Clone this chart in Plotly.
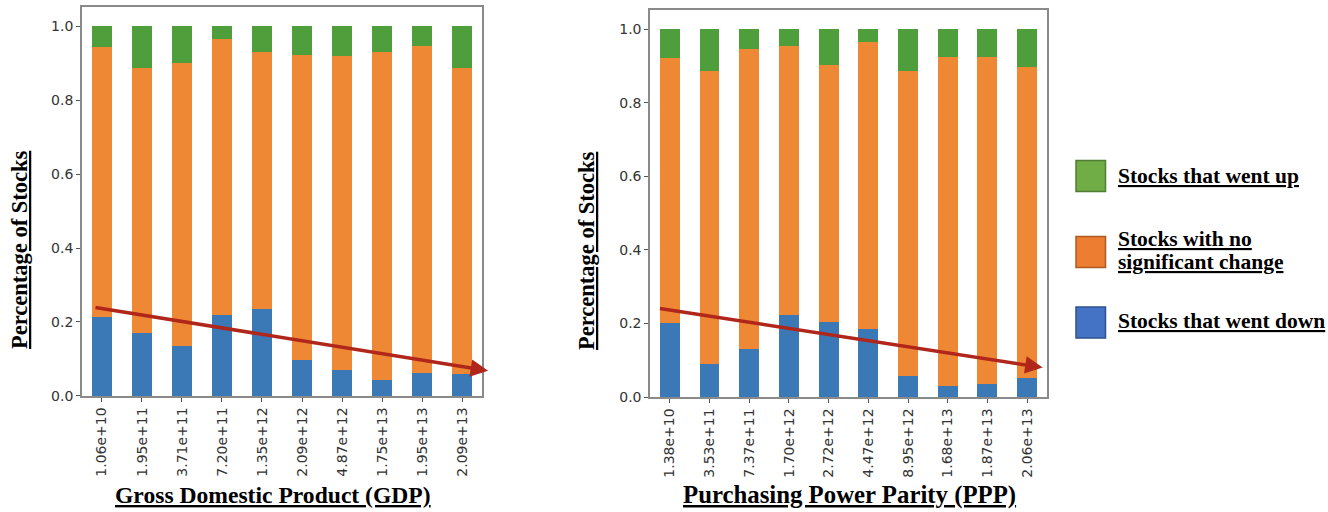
import plotly.graph_objects as go

# ---------------- data ----------------
gdp_labels = ["1.06e+10", "1.95e+11", "3.71e+11", "7.20e+11", "1.35e+12",
              "2.09e+12", "4.87e+12", "1.75e+13", "1.95e+13", "2.09e+13"]
gdp_down = [0.214, 0.171, 0.136, 0.220, 0.234, 0.098, 0.070, 0.043, 0.062, 0.059]
gdp_flat = [0.730, 0.715, 0.765, 0.744, 0.697, 0.825, 0.850, 0.886, 0.885, 0.827]
gdp_up = [0.056, 0.114, 0.099, 0.036, 0.069, 0.077, 0.080, 0.071, 0.053, 0.114]

ppp_labels = ["1.38e+10", "3.53e+11", "7.37e+11", "1.70e+12", "2.72e+12",
              "4.47e+12", "8.95e+12", "1.68e+13", "1.87e+13", "2.06e+13"]
ppp_down = [0.200, 0.091, 0.131, 0.224, 0.203, 0.184, 0.056, 0.031, 0.036, 0.053]
ppp_flat = [0.722, 0.794, 0.815, 0.731, 0.698, 0.781, 0.829, 0.893, 0.889, 0.843]
ppp_up = [0.078, 0.115, 0.054, 0.045, 0.099, 0.035, 0.115, 0.076, 0.075, 0.104]

# trend arrows: [start, end] in category units / y values
gdp_trend_x = [-0.2, 9.65]
gdp_trend_y = [0.240, 0.068]
ppp_trend_x = [-0.29, 9.39]
ppp_trend_y = [0.241, 0.080]

series_names = ["Stocks that went down", "Stocks with no significant change", "Stocks that went up"]
y_ticks = [0.0, 0.2, 0.4, 0.6, 0.8, 1.0]

# ---------------- styles ----------------
bar_colors = ["#3a78b6", "#ef8834", "#4e9e3c"]
legend_fill = ["#4472c4", "#ed7d31", "#70ad47"]
legend_line = ["#2f528f", "#ae5a21", "#507e32"]
arrow_color = "#b0261a"
serif = "Liberation Serif"
tick_font = dict(family="DejaVu Sans", size=14, color="#333333")

W, H = 1328, 520  # reference positions below are given in a 1328x512 frame

fig = go.Figure()

panels = [
    ("x", "y", gdp_labels, [gdp_down, gdp_flat, gdp_up]),
    ("x2", "y2", ppp_labels, [ppp_down, ppp_flat, ppp_up]),
]
for xa, ya, labels, stacks in panels:
    xs = list(range(len(labels)))
    for name, vals, col in zip(series_names, stacks, bar_colors):
        fig.add_trace(go.Bar(
            x=xs, y=vals, name=name, xaxis=xa, yaxis=ya, width=0.5,
            marker=dict(color=col, line=dict(width=0)), showlegend=False,
        ))

axis_common = dict(
    showgrid=False, zeroline=False, showline=True, mirror=True,
    linecolor="#8a8a8a", linewidth=1.5, ticks="outside", ticklen=4,
    tickcolor="#555555", tickwidth=1, tickfont=tick_font,
)

fig.update_layout(
    width=W, height=H, autosize=False,
    margin=dict(l=0, r=0, t=0, b=0),
    paper_bgcolor="white", plot_bgcolor="white",
    barmode="stack", bargap=0,
    xaxis=dict(domain=[0.0617, 0.3630], range=[-0.5, 9.5],
               tickvals=list(range(10)), ticktext=gdp_labels, tickangle=-90,
               **axis_common),
    yaxis=dict(domain=[0.2266, 0.9863], range=[0, 1.0514],
               tickvals=y_ticks, tickformat=".1f", **axis_common),
    xaxis2=dict(domain=[0.4895, 0.7884], range=[-0.5, 9.5], anchor="y2",
                tickvals=list(range(10)), ticktext=ppp_labels, tickangle=-90,
                **axis_common),
    yaxis2=dict(domain=[0.2246, 0.9805], range=[0, 1.0517], anchor="x2",
                tickvals=y_ticks, tickformat=".1f", **axis_common),
)

# trend arrows
for xr, yr, tx, ty in [("x", "y", gdp_trend_x, gdp_trend_y),
                       ("x2", "y2", ppp_trend_x, ppp_trend_y)]:
    fig.add_annotation(
        x=tx[1], y=ty[1], ax=tx[0], ay=ty[0],
        xref=xr, yref=yr, axref=xr, ayref=yr,
        text="", showarrow=True, arrowhead=2, arrowsize=1.0,
        arrowwidth=3.5, arrowcolor=arrow_color, standoff=0, startstandoff=0,
    )

# axis titles
for xpix, ypix in [(19, 250), (586, 251)]:
    fig.add_annotation(
        x=xpix / 1328, y=1 - ypix / 512, xref="paper", yref="paper",
        text="<u><b>Percentage of Stocks</b></u>", textangle=-90,
        showarrow=False, font=dict(family=serif, size=22.5, color="black"),
        xanchor="center", yanchor="middle",
    )
for xpix, ypix, txt, fs in [(272.5, 495, "Gross Domestic Product (GDP)", 23.6),
                            (849.5, 495, "Purchasing Power Parity (PPP)", 24.8)]:
    fig.add_annotation(
        x=xpix / 1328, y=1 - ypix / 512, xref="paper", yref="paper",
        text=f"<u><b>{txt}</b></u>", showarrow=False,
        font=dict(family=serif, size=fs, color="black"),
        xanchor="center", yanchor="middle",
    )

# custom legend (top to bottom: up, no change, down)
legend_rows = [
    (176, ["Stocks that went up"], [176], 2),
    (252, ["Stocks with no", "significant change"], [239, 262], 1),
    (322.5, ["Stocks that went down"], [321], 0),
]
legend_font = dict(family=serif, size=21.5, color="black")
for yc, lines, ylines, idx in legend_rows:
    fig.add_shape(
        type="rect", xref="paper", yref="paper",
        x0=1076 / 1328, x1=1105.5 / 1328,
        y0=1 - (yc - 15.5) / 512, y1=1 - (yc + 15.5) / 512,
        fillcolor=legend_fill[idx], line=dict(color=legend_line[idx], width=1.5),
    )
    for line, yl in zip(lines, ylines):
        fig.add_annotation(
            x=1116 / 1328, y=1 - yl / 512, xref="paper", yref="paper",
            text=f"<u><b>{line}</b></u>", showarrow=False, font=legend_font,
            xanchor="left", yanchor="middle", align="left",
        )

post_js = (
    "document.documentElement.style.margin='0';"
    "document.documentElement.style.overflow='hidden';"
    "document.body.style.margin='0';"
    "document.body.style.padding='0';"
    "document.body.style.overflow='hidden';"
)
fig.write_html("out.html", post_script=post_js,
               config={"displayModeBar": False})
